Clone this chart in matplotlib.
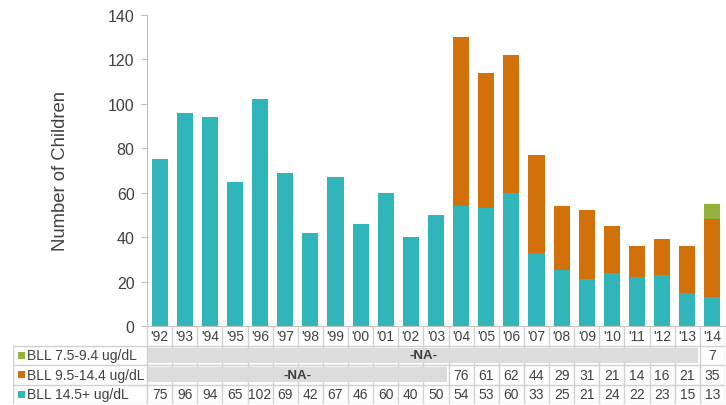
import matplotlib.pyplot as plt
import numpy as np

plt.rcParams['font.family'] = ['Liberation Sans', 'DejaVu Sans']

years = ["'92", "'93", "'94", "'95", "'96", "'97", "'98", "'99", "'00", "'01", "'02", "'03",
         "'04", "'05", "'06", "'07", "'08", "'09", "'10", "'11", "'12", "'13", "'14"]
bll_high = [75, 96, 94, 65, 102, 69, 42, 67, 46, 60, 40, 50,
            54, 53, 60, 33, 25, 21, 24, 22, 23, 15, 13]
bll_mid = [None] * 12 + [76, 61, 62, 44, 29, 31, 21, 14, 16, 21, 35]
bll_low = [None] * 22 + [7]
labels = ['BLL 7.5-9.4 ug/dL', 'BLL 9.5-14.4 ug/dL', 'BLL 14.5+ ug/dL']

c_high = '#2fb5ba'
c_mid = '#d2700a'
c_low = '#95b23c'
grid_c = '#d0d0d0'
txt_c = '#404040'

n = len(years)
x = np.arange(n)
high = np.array(bll_high, dtype=float)
mid = np.array([v if v is not None else 0 for v in bll_mid], dtype=float)
low = np.array([v if v is not None else 0 for v in bll_low], dtype=float)

W, H = 726, 406
fig = plt.figure(figsize=(W / 100, H / 100), dpi=100)

# main bar axes
left_px, right_px, top_px, base_px = 147, 725, 16, 327
ax = fig.add_axes([left_px / W, (H - base_px) / H, (right_px - left_px) / W, (base_px - top_px) / H])
bw = 0.64
ax.bar(x, high, bw, color=c_high)
ax.bar(x, mid, bw, bottom=high, color=c_mid)
ax.bar(x, low, bw, bottom=high + mid, color=c_low)
ax.set_xlim(-0.5, n - 0.5)
ax.set_ylim(0, 140)
ax.set_yticks(range(0, 141, 20))
ax.set_xticks([])
for s in ['top', 'right']:
    ax.spines[s].set_visible(False)
ax.spines['left'].set_color('#bfbfbf')
ax.spines['bottom'].set_color('#bfbfbf')
ax.tick_params(axis='y', colors='#bfbfbf', labelcolor=txt_c, labelsize=11.5, length=4, pad=5)
ax.set_ylabel('Number of Children', fontsize=13.3, color=txt_c, labelpad=28)

# data table below
tab_left = 13
colw = (right_px - left_px) / n
lab_w = (left_px - tab_left) / colw
tx = fig.add_axes([tab_left / W, 1 / H, (right_px - tab_left) / W, 78 / H])
tx.set_xlim(-0.5 - lab_w, n - 0.5)
tx.set_ylim(4, 0)
tx.axis('off')
xl = -0.5 - lab_w

for yy in [1, 2, 3, 4]:
    tx.plot([xl, n - 0.5], [yy, yy], color=grid_c, lw=1)
tx.plot([xl, xl], [1, 4], color=grid_c, lw=1)
for i in range(n + 1):
    tx.plot([i - 0.5, i - 0.5], [0, 4], color=grid_c, lw=1)

# NA bands
tx.add_patch(plt.Rectangle((-0.45, 1.12), 21.88, 0.76, color='#dcdcdc', lw=0, zorder=3))
tx.text(10.5, 1.5, '-NA-', ha='center', va='center', fontsize=9.5, fontweight='bold', color=txt_c, zorder=4)
tx.add_patch(plt.Rectangle((-0.45, 2.12), 11.9, 0.76, color='#dcdcdc', lw=0, zorder=3))
tx.text(5.5, 2.5, '-NA-', ha='center', va='center', fontsize=9.5, fontweight='bold', color=txt_c, zorder=4)

for i in range(n):
    tx.text(i, 0.5, years[i], ha='center', va='center', fontsize=10, color=txt_c)
    tx.text(i, 3.5, str(bll_high[i]), ha='center', va='center', fontsize=10, color=txt_c)
    if bll_mid[i] is not None:
        tx.text(i, 2.5, str(bll_mid[i]), ha='center', va='center', fontsize=10, color=txt_c)
    if bll_low[i] is not None:
        tx.text(i, 1.5, str(bll_low[i]), ha='center', va='center', fontsize=10, color=txt_c)

for r, (lab, col) in enumerate(zip(labels, [c_low, c_mid, c_high])):
    tx.add_patch(plt.Rectangle((xl + 0.18, r + 1.33), 0.28, 0.36, color=col, lw=0))
    tx.text(xl + 0.55, r + 1.5, lab, ha='left', va='center', fontsize=10, color=txt_c)

plt.savefig('out.png', dpi=100)
